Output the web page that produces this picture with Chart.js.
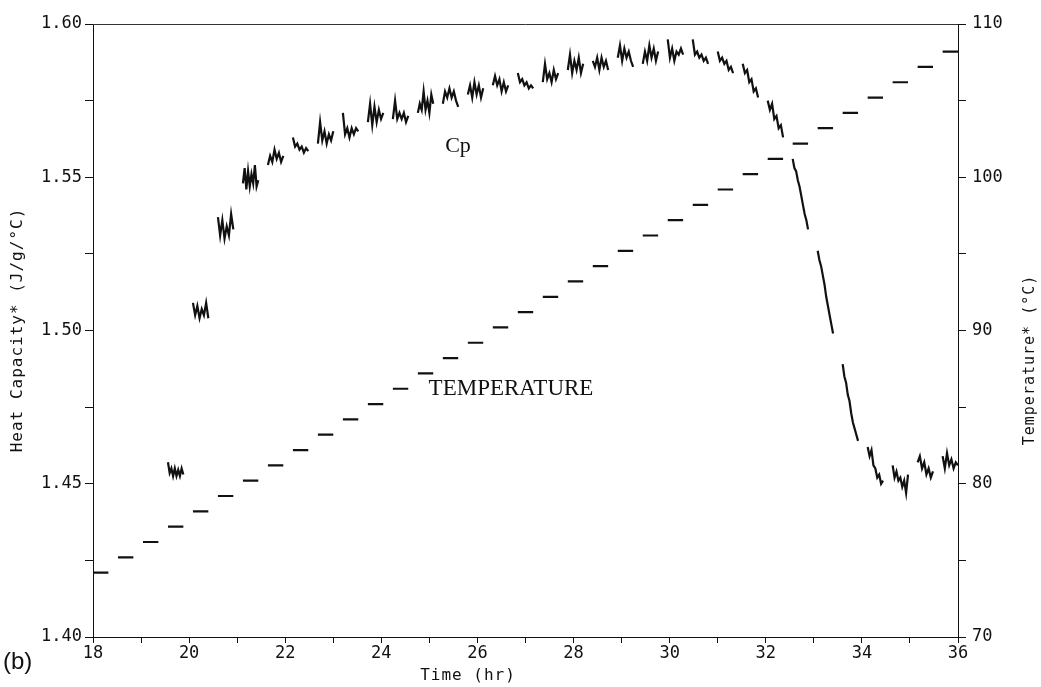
<!DOCTYPE html>
<html>
<head>
<meta charset="utf-8">
<script src="https://cdn.jsdelivr.net/npm/chart.js@4/dist/chart.umd.min.js"></script>
<style>
  html, body { margin: 0; padding: 0; background: #fff; }
  #chart { display: block; }
</style>
</head>
<body>
<canvas id="chart" width="1041" height="687"></canvas>
<script>
// isothermal steps: start time (hr) and held temperature (°C)
const holdStart = [18.00, 18.52, 19.04, 19.56, 20.08, 20.60, 21.12, 21.64, 22.16, 22.68,
                   23.20, 23.72, 24.24, 24.76, 25.28, 25.80, 26.32, 26.84, 27.36, 27.88,
                   28.40, 28.92, 29.44, 29.96, 30.48, 31.00, 31.52, 32.04, 32.56, 33.08,
                   33.60, 34.12, 34.64, 35.16, 35.68];
const holdLen = 0.32;
const holdTemp = [74.2, 75.2, 76.2, 77.2, 78.2, 79.2, 80.2, 81.2, 82.2, 83.2,
                  84.2, 85.2, 86.2, 87.2, 88.2, 89.2, 90.2, 91.2, 92.2, 93.2,
                  94.2, 95.2, 96.2, 97.2, 98.2, 99.2, 100.2, 101.2, 102.2, 103.2,
                  104.2, 105.2, 106.2, 107.2, 108.2];

// Cp readings during the holds (index into holdStart)
const cpHold = [3, 4, 5, 6, 7, 8, 9, 10, 11, 12, 13, 14, 15, 16, 17, 18, 19, 20, 21, 22,
                23, 24, 25, 26, 27, 28, 29, 30, 31, 32, 33, 34];
const cpReadings = [
  [1.457, 1.4535, 1.455, 1.4525, 1.455, 1.4525, 1.4545, 1.4525, 1.455, 1.453],
  [1.509, 1.505, 1.508, 1.504, 1.507, 1.505, 1.509, 1.504],
  [1.537, 1.531, 1.536, 1.530, 1.534, 1.531, 1.538, 1.533],
  [1.548, 1.553, 1.546, 1.552, 1.547, 1.551, 1.548, 1.554, 1.547, 1.549],
  [1.554, 1.557, 1.555, 1.559, 1.556, 1.558, 1.555, 1.557],
  [1.563, 1.560, 1.561, 1.559, 1.560, 1.558, 1.5595, 1.5585],
  [1.561, 1.568, 1.562, 1.565, 1.561, 1.564, 1.562, 1.565],
  [1.571, 1.564, 1.566, 1.563, 1.566, 1.564, 1.566, 1.565],
  [1.568, 1.574, 1.567, 1.573, 1.568, 1.572, 1.569, 1.571],
  [1.569, 1.575, 1.569, 1.571, 1.569, 1.571, 1.568, 1.570],
  [1.571, 1.574, 1.572, 1.578, 1.572, 1.575, 1.571, 1.577, 1.574],
  [1.574, 1.578, 1.576, 1.579, 1.576, 1.578, 1.575, 1.573],
  [1.577, 1.580, 1.576, 1.581, 1.577, 1.580, 1.576, 1.579],
  [1.580, 1.583, 1.580, 1.582, 1.578, 1.581, 1.578, 1.580],
  [1.584, 1.581, 1.582, 1.580, 1.581, 1.579, 1.580, 1.579],
  [1.581, 1.587, 1.582, 1.584, 1.581, 1.585, 1.582, 1.584],
  [1.585, 1.590, 1.584, 1.588, 1.585, 1.589, 1.584, 1.587],
  [1.588, 1.586, 1.589, 1.585, 1.589, 1.586, 1.588, 1.585],
  [1.589, 1.593, 1.588, 1.592, 1.589, 1.591, 1.588, 1.586],
  [1.587, 1.591, 1.588, 1.593, 1.589, 1.592, 1.588, 1.591],
  [1.595, 1.589, 1.592, 1.588, 1.591, 1.590, 1.592, 1.590],
  [1.595, 1.590, 1.591, 1.589, 1.590, 1.588, 1.589, 1.587],
  [1.591, 1.588, 1.589, 1.587, 1.588, 1.585, 1.586, 1.584],
  [1.587, 1.584, 1.585, 1.581, 1.582, 1.578, 1.579, 1.576],
  [1.575, 1.572, 1.574, 1.569, 1.570, 1.566, 1.567, 1.563],
  [1.556, 1.553, 1.552, 1.549, 1.547, 1.544, 1.541, 1.538, 1.536, 1.533],
  [1.526, 1.523, 1.521, 1.518, 1.515, 1.511, 1.508, 1.505, 1.502, 1.499],
  [1.489, 1.485, 1.483, 1.479, 1.477, 1.473, 1.470, 1.468, 1.466, 1.464],
  [1.462, 1.459, 1.461, 1.456, 1.455, 1.452, 1.453, 1.450, 1.451],
  [1.456, 1.452, 1.454, 1.451, 1.452, 1.449, 1.451, 1.447, 1.453],
  [1.457, 1.459, 1.455, 1.457, 1.453, 1.455, 1.452, 1.454],
  [1.459, 1.455, 1.460, 1.456, 1.458, 1.455, 1.457, 1.456]
];

const timeLabels = [18, 20, 22, 24, 26, 28, 30, 32, 34, 36];
const cpLabels = ['1.40', '1.45', '1.50', '1.55', '1.60'];
const tempLabels = [70, 80, 90, 100, 110];

// build point lists, null between holds so the line breaks
const cpData = [];
cpHold.forEach((h, i) => {
  const vals = cpReadings[i];
  vals.forEach((v, j) => {
    cpData.push({ x: holdStart[h] + holdLen * j / (vals.length - 1), y: v });
  });
  cpData.push({ x: holdStart[h] + holdLen + 0.01, y: null });
});

const tempData = [];
holdStart.forEach((t, i) => {
  tempData.push({ x: t, y: holdTemp[i] });
  tempData.push({ x: t + holdLen, y: holdTemp[i] });
  tempData.push({ x: t + holdLen + 0.01, y: null });
});

const mono = '"DejaVu Sans Mono", monospace';

const extras = {
  id: 'extras',
  afterDraw(chart) {
    const ctx = chart.ctx;
    const a = chart.chartArea;
    ctx.save();
    // top frame line
    ctx.strokeStyle = '#333';
    ctx.lineWidth = 1;
    ctx.beginPath();
    ctx.moveTo(a.left, a.top + 0.5);
    ctx.lineTo(a.right, a.top + 0.5);
    ctx.stroke();

    ctx.fillStyle = '#111';
    ctx.textAlign = 'center';
    ctx.textBaseline = 'middle';
    ctx.letterSpacing = '1px';

    ctx.font = '16px ' + mono;
    ctx.save();
    ctx.translate(18, 330);
    ctx.rotate(-Math.PI / 2);
    ctx.fillText('Heat Capacity* (J/g/°C)', 0, 0);
    ctx.restore();

    ctx.font = '15px ' + mono;
    ctx.save();
    ctx.translate(1030, 360);
    ctx.rotate(-Math.PI / 2);
    ctx.fillText('Temperature* (°C)', 0, 0);
    ctx.restore();

    ctx.font = '16px ' + mono;
    ctx.fillText('Time (hr)', 468, 676);

    ctx.letterSpacing = '0px';
    ctx.font = '22px "Liberation Serif", serif';
    ctx.fillText('Cp', 458, 146);
    ctx.font = '23px "Liberation Serif", serif';
    ctx.fillText('TEMPERATURE', 511, 389);

    ctx.font = '24px "Liberation Sans", Arial, sans-serif';
    ctx.textAlign = 'left';
    ctx.fillText('(b)', 3, 662);
    ctx.restore();
  }
};

new Chart(document.getElementById('chart'), {
  type: 'line',
  data: {
    datasets: [
      {
        label: 'Cp',
        data: cpData,
        yAxisID: 'y',
        borderColor: '#111',
        borderWidth: 2.2,
        pointRadius: 0,
        tension: 0,
        spanGaps: false
      },
      {
        label: 'Temperature',
        data: tempData,
        yAxisID: 'y2',
        borderColor: '#111',
        borderWidth: 2.2,
        pointRadius: 0,
        tension: 0,
        spanGaps: false
      }
    ]
  },
  options: {
    responsive: false,
    animation: false,
    events: [],
    layout: { padding: { top: 24, left: 0, right: 0, bottom: 0 } },
    plugins: {
      legend: { display: false },
      tooltip: { enabled: false }
    },
    scales: {
      x: {
        type: 'linear',
        min: 18,
        max: 36,
        afterFit: s => { s.height = 50; },
        ticks: {
          stepSize: 1,
          autoSkip: false,
          maxRotation: 0,
          padding: 0,
          color: '#111',
          font: { family: mono, size: 17 },
          callback: v => timeLabels.includes(v) ? String(v) : ''
        },
        grid: { drawOnChartArea: false, tickLength: 6, color: '#111' },
        border: { color: '#111', width: 1 }
      },
      y: {
        position: 'left',
        min: 1.4,
        max: 1.6,
        afterFit: s => { s.width = 93; },
        ticks: {
          stepSize: 0.025,
          autoSkip: false,
          padding: 3,
          color: '#111',
          font: { family: mono, size: 17 },
          callback: v => {
            const s = v.toFixed(2);
            return cpLabels.includes(s) && Math.abs(v - Number(s)) < 1e-6 ? s : '';
          }
        },
        grid: { drawOnChartArea: false, tickLength: 8, color: '#111' },
        border: { color: '#111', width: 1 }
      },
      y2: {
        position: 'right',
        min: 70,
        max: 110,
        afterFit: s => { s.width = 83; },
        ticks: {
          stepSize: 5,
          autoSkip: false,
          padding: 6,
          color: '#111',
          font: { family: mono, size: 17 },
          callback: v => tempLabels.includes(v) ? String(v) : ''
        },
        grid: { drawOnChartArea: false, tickLength: 8, color: '#111' },
        border: { color: '#111', width: 1 }
      }
    }
  },
  plugins: [extras]
});
</script>
</body>
</html>
